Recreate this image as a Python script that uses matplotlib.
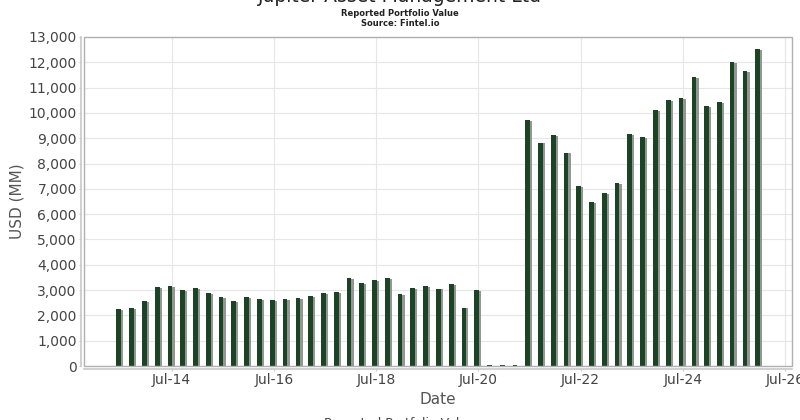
import matplotlib
matplotlib.use("Agg")
import matplotlib.pyplot as plt
import matplotlib.patheffects as pe
from matplotlib.ticker import FuncFormatter, MultipleLocator
from matplotlib.patches import Rectangle
import pandas as pd
import datetime as dt

# ---- data ----
title = "Jupiter Asset Management Ltd"
subtitle = "Reported Portfolio Value"
source = "Source: Fintel.io"
legend_label = "Reported Portfolio Value"

quarters = pd.date_range("2013-06-30", periods=51, freq="QE")
values = [2250, 2280, 2580, 3110, 3170, 3000, 3090, 2880, 2720, 2560,
          2720, 2640, 2610, 2640, 2680, 2760, 2890, 2930, 3490, 3290,
          3410, 3490, 2850, 3090, 3170, 3060, 3250, 2310, 3010,
          20, 20, 20,
          9710, 8830, 9120, 8430, 7120, 6480, 6830, 7240, 9160, 9040,
          10100, 10500, 10590, 11420, 10260, 10440, 12000, 11660, 12510]
x_tick_labels = ["Jul-14", "Jul-16", "Jul-18", "Jul-20", "Jul-22", "Jul-24", "Jul-26"]
x_tick_dates = [dt.datetime(2014, 7, 1), dt.datetime(2016, 7, 1), dt.datetime(2018, 7, 1),
                dt.datetime(2020, 7, 1), dt.datetime(2022, 7, 1), dt.datetime(2024, 7, 1),
                dt.datetime(2026, 7, 1)]

plt.rcParams['font.family'] = ['DejaVu Sans']

fig = plt.figure(figsize=(8, 4.2), dpi=100)
ax = fig.add_axes([84/800, 54/420, (792-84)/800, (366-37)/420])

bar_x = quarters - pd.Timedelta(days=12)
bars = ax.bar(bar_x, values, width=34, align="center", color="#1b4424",
              edgecolor="none", zorder=3)
for b in bars:
    b.set_path_effects([pe.SimplePatchShadow(offset=(1.6, -0.6), shadow_rgbFace="#8a8a8a", alpha=0.9),
                        pe.Normal()])

ax.set_xlim(dt.datetime(2012, 10, 12), dt.datetime(2026, 8, 20))
ax.set_ylim(0, 13000)
ax.yaxis.set_major_locator(MultipleLocator(1000))
ax.yaxis.set_major_formatter(FuncFormatter(lambda v, p: f"{int(v):,}"))
ax.set_xticks(x_tick_dates)
ax.set_xticklabels(x_tick_labels)

ax.grid(True, color="#e6e6e6", linewidth=0.8, zorder=0)
ax.set_axisbelow(True)
for s in ["top", "right"]:
    ax.spines[s].set_visible(False)
for s in ["left", "bottom"]:
    ax.spines[s].set_position(("outward", 2.5))
    ax.spines[s].set_color("#c8c8c8")
    ax.spines[s].set_linewidth(1.2)
ax.add_patch(Rectangle((0, 0), 1, 1, transform=ax.transAxes, fill=False,
                       edgecolor="#b0b0b0", linewidth=1.0, zorder=5, clip_on=False))

ax.tick_params(axis="both", colors="#c8c8c8", labelcolor="#444444", labelsize=10,
               length=1.5, width=0.8, pad=1.2)

ax.set_xlabel("Date", fontsize=11, color="#555555")
ax.set_ylabel("USD (MM)", fontsize=11, color="#555555")
ax.xaxis.set_label_coords(0.5, (366 - 399) / 329, transform=ax.transAxes)
ax.yaxis.set_label_coords((17 - 84) / 708, 0.5, transform=ax.transAxes)
ax.xaxis.label.set_va("center")
ax.yaxis.label.set_va("center")

fig.text(0.5, 1.0 + 4/420, title, ha="center", va="center", fontsize=13.5, color="#222222")
fig.text(0.5, 1 - 13/420, subtitle, ha="center", va="center", fontsize=6, fontweight="bold",
         color="#222222")
fig.text(0.5, 1 - 23/420, source, ha="center", va="center", fontsize=6, fontweight="bold",
         color="#222222")
fig.text(0.5, -3/420, legend_label, ha="center", va="center", fontsize=9, color="#444444")

fig.savefig("out.png", dpi=100)
